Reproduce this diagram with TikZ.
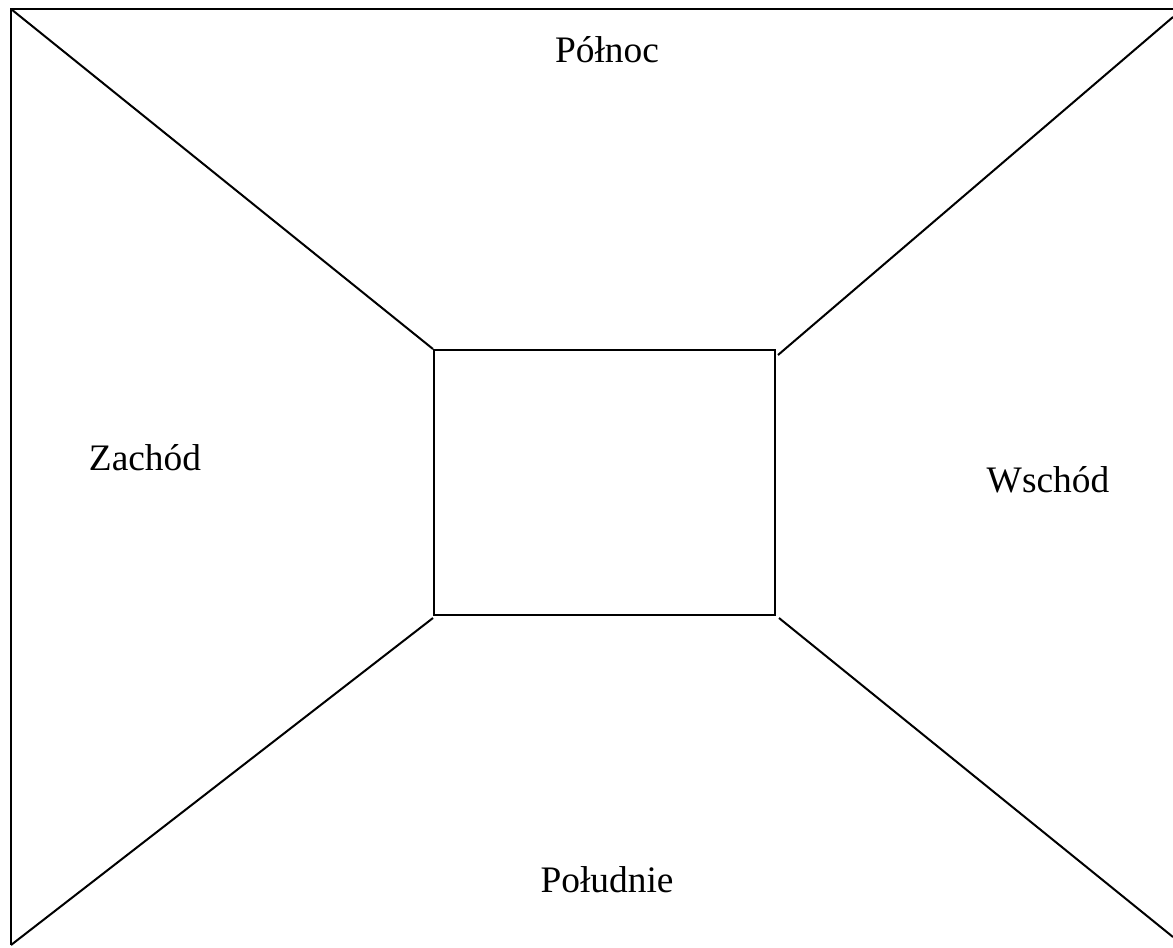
\documentclass[tikz,border=0pt]{standalone}
\usepackage{fontspec}
\setmainfont{Liberation Serif}
\usetikzlibrary{positioning}

\begin{document}
\begin{tikzpicture}[
  x=0.5pt,y=-0.5pt,
  linia/.style={line width=1pt},
  strona/.style={font=\fontsize{18.7}{22}\selectfont,inner sep=0pt}
]
\useasboundingbox (0,0) rectangle (1173,948);
% zewnetrzna rama
\coordinate (lg) at (11,9);
\coordinate (pg) at (1173,9);
\coordinate (ld) at (11,945);
\draw[linia] (pg)--(lg)--(ld);
% pokoj w srodku
\node[draw,linia,minimum width=170.5pt,minimum height=132.5pt,inner sep=0pt,anchor=north west] (pokoj) at (433,349) {};
% przekatne
\coordinate (pg1) at (1173,17);
\coordinate (pd1) at (1173,937);
\coordinate (wpg) at (778,355);
\coordinate (wld) at (433,618);
\coordinate (wpd) at (779,618);
\draw[linia] (lg)--(pokoj.north west);
\draw[linia] (wpg)--(pg1);
\draw[linia] (wld)--(ld);
\draw[linia] (wpd)--(pd1);
% nazwy stron
\node[strona] (polnoc) at (607,50) {Północ};
\node[strona] (zachod) at (145,458) {Zachód};
\node[strona] (wschod) at (1048,480) {Wschód};
\node[strona] (poludnie) at (607,880) {Południe};
\end{tikzpicture}
\end{document}
